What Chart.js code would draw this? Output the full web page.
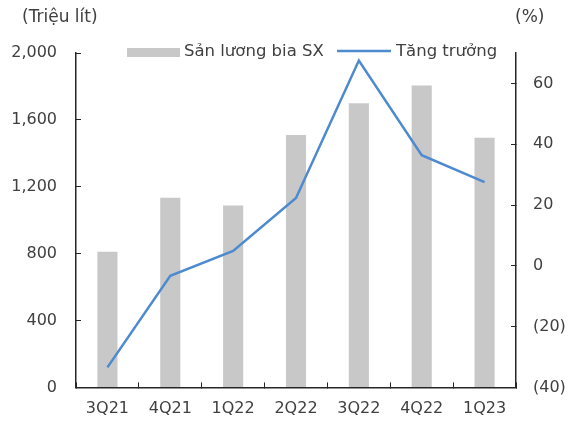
<!DOCTYPE html>
<html>
<head>
<meta charset="utf-8">
<script src="https://cdn.jsdelivr.net/npm/chart.js@4/dist/chart.umd.min.js"></script>
<style>
  body { margin: 0; background: #fff; }
</style>
</head>
<body>
<canvas id="beer-chart" width="575" height="421"></canvas>
<script>
const quarters = ["3Q21", "4Q21", "1Q22", "2Q22", "3Q22", "4Q22", "1Q23"];
const volume = [812, 1135, 1088, 1510, 1700, 1805, 1493];   // triệu lít
const growth = [-33.4, -3.3, 4.9, 22.3, 67.5, 36.4, 27.5];  // %

const FONT = "'DejaVu Sans', sans-serif";
const TEXT = "#404040";
const AXIS = "#262626";
const BAR = "#c8c8c8";
const LINE = "#4e8ad0";

// legend + unit labels drawn by hand, the built-in legend would push the plot down
const extras = {
  id: "extras",
  afterDraw(chart) {
    const ctx = chart.ctx;
    ctx.save();
    ctx.font = "17px " + FONT;
    ctx.fillStyle = TEXT;
    ctx.textBaseline = "middle";
    ctx.textAlign = "left";
    ctx.fillText("(Triệu lít)", 22, 18);
    ctx.fillText("(%)", 515, 18);

    ctx.font = "16.5px " + FONT;
    ctx.fillStyle = BAR;
    ctx.fillRect(127, 48, 53, 9);
    ctx.fillStyle = TEXT;
    ctx.fillText(chart.data.datasets[0].label, 184, 52);

    ctx.strokeStyle = LINE;
    ctx.lineWidth = 2.5;
    ctx.beginPath();
    ctx.moveTo(337, 51);
    ctx.lineTo(391, 51);
    ctx.stroke();
    ctx.fillText(chart.data.datasets[1].label, 396, 52);
    ctx.restore();
  }
};

const ctx = document.getElementById("beer-chart").getContext("2d");
const beerChart = new Chart(ctx, {
  type: "bar",
  data: {
    labels: quarters,
    datasets: [
      {
        label: "Sản lương bia SX",
        data: volume,
        backgroundColor: BAR,
        yAxisID: "y",
        categoryPercentage: 1,
        barPercentage: 0.32,
        order: 2
      },
      {
        type: "line",
        label: "Tăng trưởng",
        data: growth,
        borderColor: LINE,
        borderWidth: 2.5,
        pointRadius: 0,
        tension: 0,
        yAxisID: "y1",
        order: 1
      }
    ]
  },
  options: {
    responsive: false,
    animation: false,
    layout: { padding: { top: 53 } },
    plugins: {
      legend: { display: false },
      tooltip: { enabled: false }
    },
    scales: {
      x: {
        afterFit: s => { s.height = 33; },
        grid: { drawOnChartArea: false, tickLength: -5, color: AXIS, offset: true },
        border: { color: AXIS, width: 1.5 },
        ticks: { color: TEXT, font: { family: FONT, size: 16 }, padding: 17 }
      },
      y: {
        position: "left",
        min: 0,
        max: 2000,
        afterFit: s => { s.width = 76; },
        grid: { drawOnChartArea: false, tickLength: -5, color: AXIS },
        border: { color: AXIS, width: 1.5 },
        ticks: {
          stepSize: 400,
          color: TEXT,
          font: { family: FONT, size: 16 },
          padding: 24,
          callback: v => v.toLocaleString("en-US")
        }
      },
      y1: {
        position: "right",
        min: -40,
        max: 70,
        afterFit: s => { s.width = 59; },
        afterBuildTicks: s => { s.ticks = s.ticks.filter(t => t.value <= 60); },
        grid: { drawOnChartArea: false, tickLength: -5, color: AXIS },
        border: { color: AXIS, width: 1.5 },
        ticks: {
          stepSize: 20,
          color: TEXT,
          font: { family: FONT, size: 16 },
          padding: 22,
          callback: v => v < 0 ? "(" + Math.abs(v) + ")" : String(v)
        }
      }
    }
  },
  plugins: [extras]
});
</script>
</body>
</html>
